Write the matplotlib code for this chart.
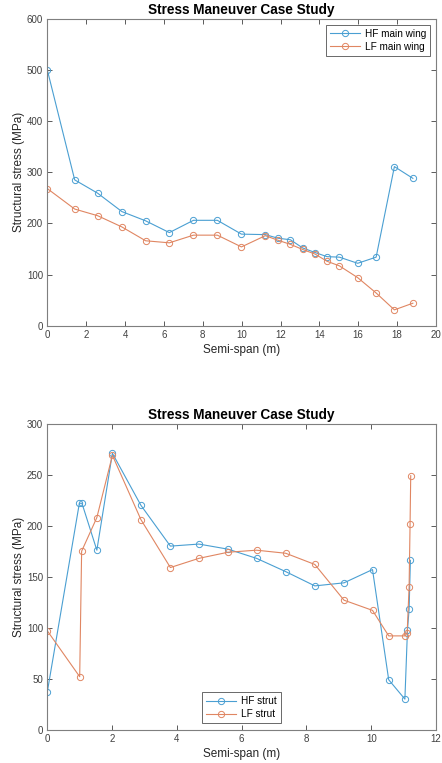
import matplotlib
matplotlib.use("Agg")
import matplotlib.pyplot as plt

plt.rcParams['font.family'] = ['Liberation Sans', 'DejaVu Sans']

# Main wing stress distribution
wing_span = [0.0, 1.41, 2.59, 3.84, 5.06, 6.28, 7.52, 8.75, 9.99, 11.22,
             11.87, 12.51, 13.14, 13.78, 14.39, 15.03, 15.97, 16.92, 17.86, 18.81]
hf_wing = [500, 285, 259, 223, 205, 182, 206, 206, 179, 178,
           171, 168, 152, 143, 135, 134, 122, 134, 311, 288]
lf_wing = [268, 228, 215, 193, 166, 162, 177, 177, 154, 176,
           167, 159, 149, 140, 126, 117, 94, 64, 31, 44]

# Strut stress distribution
hf_strut_span = [0.0, 0.99, 1.07, 1.53, 2.01, 2.89, 3.80, 4.68, 5.58, 6.46,
                 7.36, 8.26, 9.16, 10.04, 10.54, 11.04, 11.12, 11.17, 11.21]
hf_strut = [37, 222, 222, 176, 271, 220, 180, 182, 177, 168,
            155, 141, 144, 157, 49, 30, 98, 118, 166]
lf_strut_span = [0.0, 1.0, 1.06, 1.53, 2.01, 2.89, 3.80, 4.68, 5.58, 6.46,
                 7.36, 8.26, 9.16, 10.04, 10.54, 11.04, 11.11, 11.17, 11.20, 11.22]
lf_strut = [97, 52, 175, 208, 269, 206, 159, 168, 174, 176,
            173, 162, 127, 117, 92, 92, 95, 140, 202, 249]

wing_xticks = list(range(0, 21, 2))
wing_yticks = list(range(0, 601, 100))
strut_xticks = list(range(0, 13, 2))
strut_yticks = list(range(0, 301, 50))

BLUE = '#4a9fd2'
ORANGE = '#e08662'
AXIS_GREY = '#404040'

fig = plt.figure(figsize=(4.42, 7.63), dpi=100)
ax1 = fig.add_axes([0.107, 0.5731, 0.8794, 0.4024])
ax2 = fig.add_axes([0.107, 0.0436, 0.8794, 0.4011])


def style(ax, xticks, yticks):
    ax.set_xticks(xticks)
    ax.set_yticks(yticks)
    ax.set_xlim(xticks[0], xticks[-1])
    ax.set_ylim(yticks[0], yticks[-1])
    ax.tick_params(direction='in', top=True, right=True, length=3.5,
                   width=0.6, labelsize=7, colors=AXIS_GREY, pad=3)
    for s in ax.spines.values():
        s.set_color('#7f7f7f')
        s.set_linewidth(0.8)
    ax.set_xlabel('Semi-span (m)', fontsize=8.5, color='#262626', labelpad=3)
    ax.set_ylabel('Structural stress (MPa)', fontsize=8.5, color='#262626', labelpad=1.5)
    ax.set_title('Stress Maneuver Case Study', fontsize=9.8, fontweight='bold', pad=3.5)


mk = dict(marker='o', markersize=4.5, markerfacecolor='none',
          markeredgewidth=0.7, linewidth=0.8)

legend_kw = dict(fontsize=7.2, frameon=True, fancybox=False,
                 edgecolor='#262626', borderpad=0.4, handlelength=3.0,
                 handletextpad=0.5, labelspacing=0.3)

ax1.plot(wing_span, hf_wing, color=BLUE, label='HF main wing', **mk)
ax1.plot(wing_span, lf_wing, color=ORANGE, label='LF main wing', **mk)
style(ax1, wing_xticks, wing_yticks)
leg1 = ax1.legend(loc='upper right', borderaxespad=0.6, **legend_kw)
leg1.get_frame().set_linewidth(0.6)

ax2.plot(hf_strut_span, hf_strut, color=BLUE, label='HF strut', **mk)
ax2.plot(lf_strut_span, lf_strut, color=ORANGE, label='LF strut', **mk)
style(ax2, strut_xticks, strut_yticks)
leg2 = ax2.legend(loc='lower center', borderaxespad=0.65, **legend_kw)
leg2.get_frame().set_linewidth(0.6)

fig.savefig('out.png', dpi=100)
